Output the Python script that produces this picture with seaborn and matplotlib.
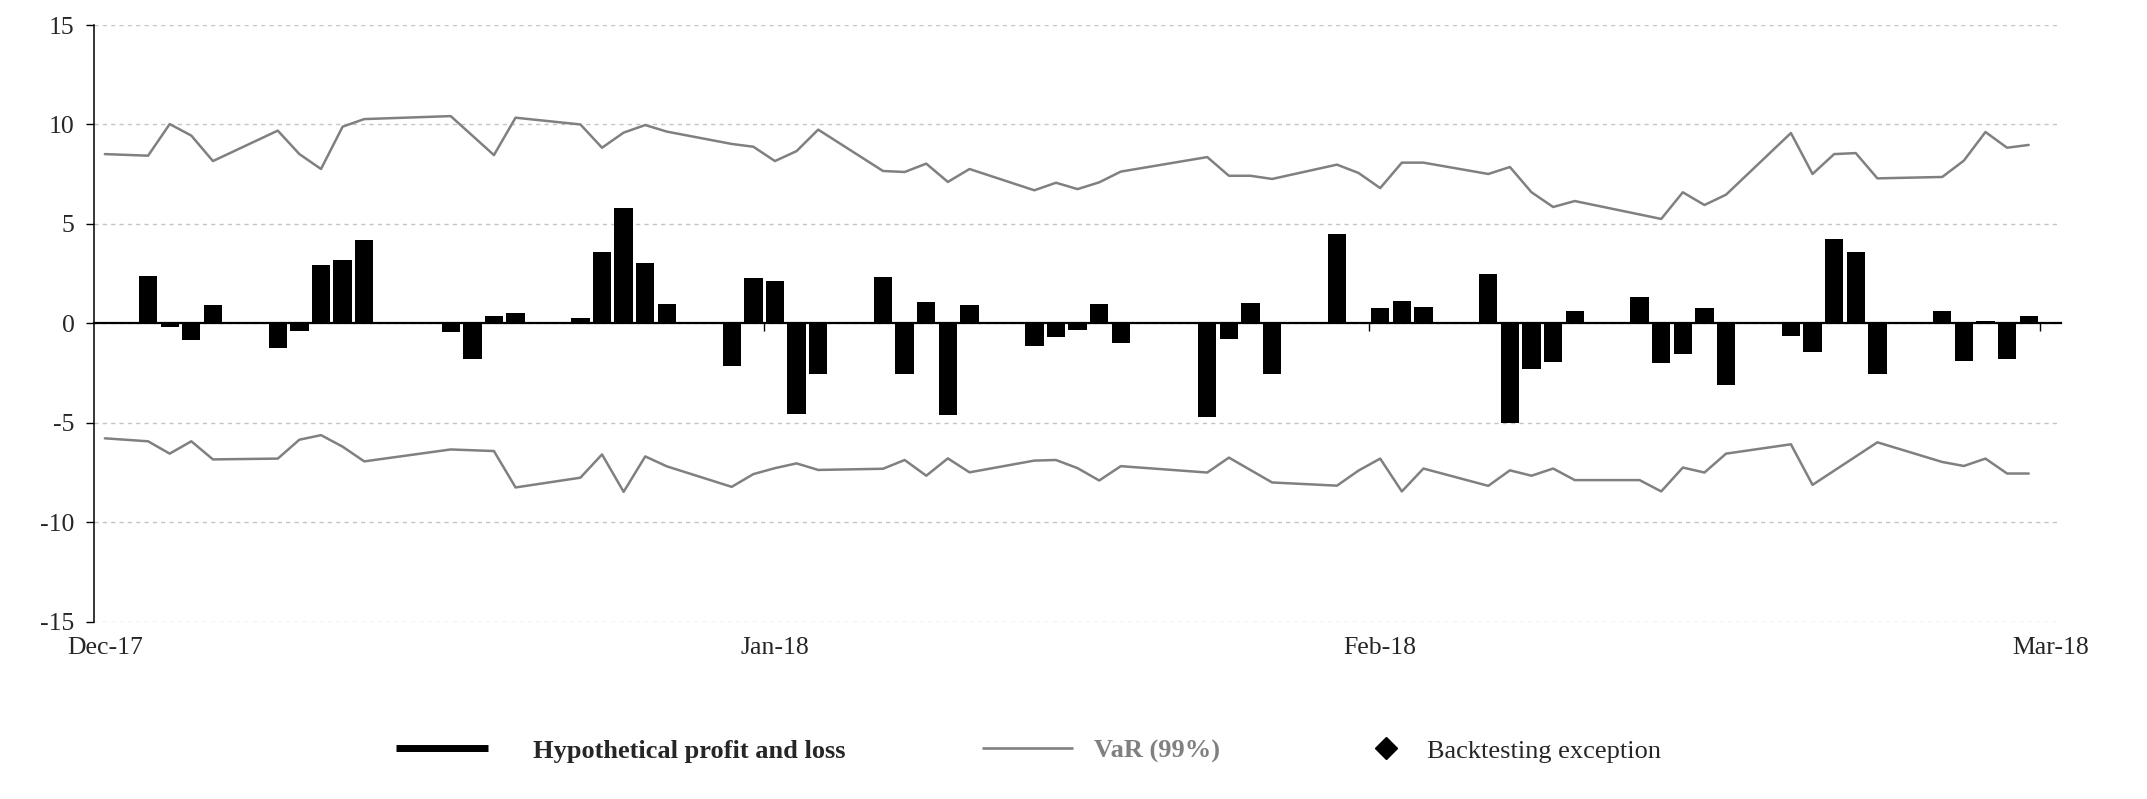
import matplotlib
matplotlib.use("Agg")
import matplotlib.pyplot as plt
from matplotlib.lines import Line2D
import pandas as pd
import seaborn as sns

sns.set_theme(style="white")
plt.rcParams["font.family"] = ["Liberation Serif", "DejaVu Serif"]
plt.rcParams["axes.unicode_minus"] = False

# day index from start of window (0 = first day shown)
pl_day = [2, 3, 4, 5, 8, 9, 10, 11, 12, 16, 17, 18, 19, 22, 23, 24, 25, 26,
          29, 30, 31, 32, 33, 36, 37, 38, 39, 40, 43, 44, 45, 46, 47, 51, 52, 53, 54,
          57, 58, 59, 60, 61, 64, 65, 66, 67, 68, 71, 72, 73, 74, 75,
          78, 79, 80, 81, 82, 85, 86, 87, 88, 89]
pl_value = [2.38, -0.17, -0.82, 0.92, -1.22, -0.37, 2.93, 3.18, 4.19,
            -0.42, -1.78, 0.37, 0.50, 0.25, 3.57, 5.78, 3.03, 0.97,
            -2.13, 2.28, 2.13, -4.54, -2.53, 2.33, -2.53, 1.07, -4.59, 0.92,
            -1.12, -0.67, -0.32, 0.97, -0.97, -4.73, -0.77, 1.02, -2.53,
            4.49, 0.07, 0.77, 1.12, 0.82, 2.48, -5.0, -2.30, -1.93, 0.62,
            1.32, -1.99, -1.53, 0.77, -3.08, -0.62, -1.42, 4.24, 3.59, -2.53,
            0.62, -1.88, 0.12, -1.78, 0.37]

var_up_day = [0, 2, 3, 4, 5, 8, 9, 10, 11, 12, 16, 18, 19, 22, 23, 24, 25, 26,
              29, 30, 31, 32, 33, 36, 37, 38, 39, 40, 43, 44, 45, 46, 47, 51, 52, 53, 54,
              57, 58, 59, 60, 61, 64, 65, 66, 67, 68, 72, 73, 74, 75,
              78, 79, 80, 81, 82, 85, 86, 87, 88, 89]
var_up = [8.51, 8.43, 10.02, 9.44, 8.16, 9.69, 8.51, 7.76, 9.89, 10.27,
          10.42, 8.46, 10.34, 10.0, 8.83, 9.59, 9.97, 9.64,
          9.02, 8.88, 8.16, 8.66, 9.74, 7.66, 7.61, 8.03, 7.11, 7.76,
          6.69, 7.07, 6.75, 7.09, 7.63, 8.36, 7.42, 7.42, 7.26,
          7.98, 7.56, 6.80, 8.08, 8.08, 7.51, 7.86, 6.59, 5.85, 6.15,
          5.25, 6.59, 5.95, 6.47, 9.57, 7.51, 8.51, 8.56, 7.29,
          7.36, 8.18, 9.62, 8.83, 8.97]

var_lo_day = [0, 2, 3, 4, 5, 8, 9, 10, 11, 12, 16, 18, 19, 22, 23, 24, 25, 26,
              29, 30, 31, 32, 33, 36, 37, 38, 39, 40, 43, 44, 45, 46, 47, 51, 52, 54,
              57, 58, 59, 60, 61, 64, 65, 66, 67, 68, 71, 72, 73, 74, 75,
              78, 79, 82, 85, 86, 87, 88, 89]
var_lo = [-5.78, -5.93, -6.55, -5.93, -6.84, -6.80, -5.85, -5.62, -6.20, -6.94,
          -6.34, -6.42, -8.25, -7.76, -6.59, -8.47, -6.69, -7.19,
          -8.22, -7.58, -7.28, -7.04, -7.37, -7.31, -6.87, -7.66, -6.79, -7.49,
          -6.90, -6.87, -7.28, -7.90, -7.18, -7.50, -6.75, -8.0,
          -8.16, -7.40, -6.80, -8.45, -7.30, -8.17, -7.39, -7.66, -7.30, -7.88,
          -7.88, -8.45, -7.25, -7.50, -6.55, -6.08, -8.12, -5.98,
          -6.97, -7.17, -6.80, -7.55, -7.55]

month_pos = [0, 31, 59, 90]
month_labels = ["Dec-17", "Jan-18", "Feb-18", "Mar-18"]
month_edges = [30.5, 58.5, 89.5]
y_ticks = [-15, -10, -5, 0, 5, 10, 15]

GREY = "#808080"

pl_df = pd.DataFrame({"day": pl_day, "pl": pl_value})
up_df = pd.DataFrame({"day": var_up_day, "var": var_up})
lo_df = pd.DataFrame({"day": var_lo_day, "var": var_lo})

fig = plt.figure(figsize=(21.47, 7.99), dpi=100)
ax = fig.add_axes([0.0438, 0.2219, 0.9162, 0.7468])

sns.barplot(data=pl_df, x="day", y="pl", native_scale=True, color="black",
            saturation=1, width=0.85, linewidth=0, errorbar=None, ax=ax)
sns.lineplot(data=up_df, x="day", y="var", color=GREY, linewidth=1.8, ax=ax)
sns.lineplot(data=lo_df, x="day", y="var", color=GREY, linewidth=1.8, ax=ax)

ax.set_xlim(-0.5, 90.5)
ax.set_ylim(-15, 15)
ax.set_xlabel("")
ax.set_ylabel("")

# y axis + dashed grid
ax.set_yticks(y_ticks)
ax.tick_params(axis="y", direction="out", length=6, width=1, color="black",
               labelsize=18.5, pad=8, left=True)
ax.yaxis.grid(True, linestyle=(0, (3, 3)), color="#c4c4c4", linewidth=1)
ax.xaxis.grid(False)
ax.set_axisbelow(True)

for s in ["top", "right"]:
    ax.spines[s].set_visible(False)
ax.spines["left"].set_color("black")
ax.spines["left"].set_linewidth(1.1)
ax.spines["bottom"].set_position(("data", 0))
ax.spines["bottom"].set_color("black")
ax.spines["bottom"].set_linewidth(1.6)
ax.spines["bottom"].set_zorder(3)

# small month separators on the zero line
ax.set_xticks(month_edges)
ax.set_xticklabels([])
ax.tick_params(axis="x", direction="out", length=6, width=1, color="black", bottom=True)

# month labels along the bottom of the plot
sec = ax.secondary_xaxis("bottom")
sec.set_xticks(month_pos, labels=month_labels)
sec.tick_params(length=0, pad=11, labelsize=18.5)
sec.spines["bottom"].set_visible(False)

# legend
fs = 19
leg1 = fig.legend([Line2D([], [], color="black", linewidth=5, solid_capstyle="butt")],
                  ["Hypothetical profit and loss"],
                  loc="center left", bbox_to_anchor=(396 / 2147, 0.0601),
                  frameon=False, handlelength=3.5, handletextpad=1.7,
                  borderpad=0, borderaxespad=0, prop={"weight": "bold", "size": fs})
leg2 = fig.legend([Line2D([], [], color=GREY, linewidth=1.9, solid_capstyle="butt")],
                  ["VaR (99%)"],
                  loc="center left", bbox_to_anchor=(982 / 2147, 0.0601),
                  frameon=False, handlelength=3.45, handletextpad=0.8,
                  borderpad=0, borderaxespad=0, prop={"weight": "bold", "size": fs})
for t in leg2.get_texts():
    t.set_color(GREY)
leg3 = fig.legend([Line2D([], [], linestyle="none", marker="D", color="black",
                          markersize=11)],
                  ["Backtesting exception"],
                  loc="center left", bbox_to_anchor=(1374 / 2147, 0.0601),
                  frameon=False, handlelength=0.9, handletextpad=1.1,
                  borderpad=0, borderaxespad=0, prop={"size": fs})

fig.savefig("out.png", dpi=100)
